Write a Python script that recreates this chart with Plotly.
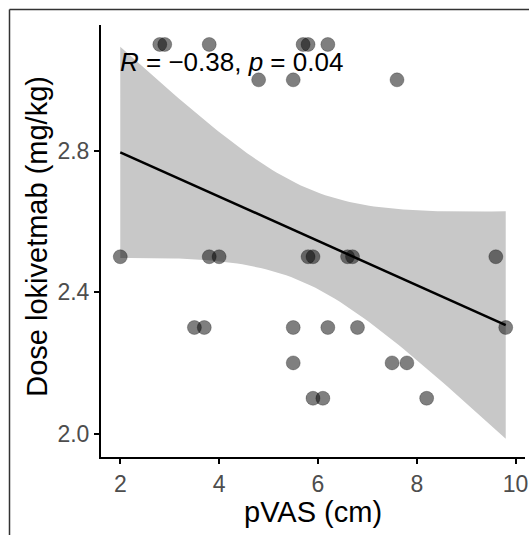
import numpy as np
import plotly.graph_objects as go

# Data
pvas = [2.8, 2.9, 3.8, 5.7, 5.8, 6.2,
        4.8, 5.5, 7.6,
        2.0, 3.8, 4.0, 5.8, 5.9, 6.6, 6.7, 9.6,
        3.5, 3.7, 5.5, 6.2, 6.8, 9.8,
        5.5, 7.5, 7.8,
        5.9, 6.1, 8.2]
dose = [3.1, 3.1, 3.1, 3.1, 3.1, 3.1,
        3.0, 3.0, 3.0,
        2.5, 2.5, 2.5, 2.5, 2.5, 2.5, 2.5, 2.5,
        2.3, 2.3, 2.3, 2.3, 2.3, 2.3,
        2.2, 2.2, 2.2,
        2.1, 2.1, 2.1]
x_ticks = [2, 4, 6, 8, 10]
y_ticks = [2.0, 2.4, 2.8]
y_tick_labels = ["2.0", "2.4", "2.8"]
label_text = "<i>R</i> = \u22120.38, <i>p</i> = 0.04"

x = np.array(pvas)
y = np.array(dose)
n = len(x)
slope, intercept = np.polyfit(x, y, 1)
xs = np.linspace(x.min(), x.max(), 80)
ys = intercept + slope * xs
resid = y - (intercept + slope * x)
s = np.sqrt(np.sum(resid ** 2) / (n - 2))
sxx = np.sum((x - x.mean()) ** 2)
se = s * np.sqrt(1.0 / n + (xs - x.mean()) ** 2 / sxx)
tval = 2.0518  # t(0.975, df=27)
lo = ys - tval * se
hi = ys + tval * se

FONT = "Liberation Sans, Arial"
W, H = 529, 535
L, R, T, B = 101, 4, 25, 535 - 457.5
pw, ph = W - L - R, H - T - B


def px(xp):  # page x pixel -> paper coordinate
    return (xp - L) / pw


def py(yp):  # page y pixel -> paper coordinate
    return (H - B - yp) / ph


fig = go.Figure()
fig.add_trace(go.Scatter(
    x=np.concatenate([xs, xs[::-1]]), y=np.concatenate([hi, lo[::-1]]),
    fill="toself", fillcolor="rgb(200,200,200)", line=dict(width=0),
    mode="lines", hoverinfo="skip", showlegend=False))
fig.add_trace(go.Scatter(
    x=pvas, y=dose, mode="markers",
    marker=dict(size=14, color="rgba(0,0,0,0.5)",
                line=dict(width=1, color="rgba(0,0,0,0.25)")),
    showlegend=False))
fig.add_trace(go.Scatter(
    x=xs, y=ys, mode="lines", line=dict(color="black", width=2.5),
    showlegend=False))

fig.add_annotation(x=2.0, y=3.05, xref="x", yref="y", text=label_text,
                   showarrow=False, xanchor="left", yanchor="middle", xshift=-2,
                   font=dict(size=26, color="black", family=FONT))

# axis titles
fig.add_annotation(x=px(313), y=py(513), xref="paper", yref="paper",
                   text="pVAS (cm)", showarrow=False, xanchor="center", yanchor="middle",
                   font=dict(size=29, color="black", family=FONT))
fig.add_annotation(x=px(37), y=py(237), xref="paper", yref="paper",
                   text="Dose lokivetmab (mg/kg)", showarrow=False, textangle=-90,
                   xanchor="center", yanchor="middle",
                   font=dict(size=29, color="black", family=FONT))

# outer border (top and left only visible)
fig.add_shape(type="line", xref="paper", yref="paper",
              x0=px(9.5), x1=1.2, y0=py(9.5), y1=py(9.5), line=dict(color="#333333", width=1.5))
fig.add_shape(type="line", xref="paper", yref="paper",
              x0=px(9.5), x1=px(9.5), y0=py(9.5), y1=-0.5, line=dict(color="#333333", width=1.5))

fig.update_layout(
    width=W, height=H,
    margin=dict(l=L, r=R, t=T, b=B, autoexpand=False),
    paper_bgcolor="white", plot_bgcolor="white",
    font=dict(family=FONT, color="black"),
    xaxis=dict(range=[1.61, 10.19], tickvals=x_ticks, showgrid=False, zeroline=False,
               automargin=False,
               showline=True, linecolor="black", linewidth=2,
               ticks="outside", ticklen=5, tickwidth=2, tickcolor="black",
               tickfont=dict(size=23, color="#4D4D4D")),
    yaxis=dict(range=[1.934, 3.155], tickvals=y_ticks, ticktext=y_tick_labels,
               showgrid=False, zeroline=False, automargin=False,
               showline=True, linecolor="black", linewidth=2,
               ticks="outside", ticklen=5, tickwidth=2, tickcolor="black",
               tickfont=dict(size=23, color="#4D4D4D")),
)

fig.write_html("out.html",
               config={"displayModeBar": False},
               post_script="document.body.style.margin='0';"
                           "document.documentElement.style.overflow='hidden';")
